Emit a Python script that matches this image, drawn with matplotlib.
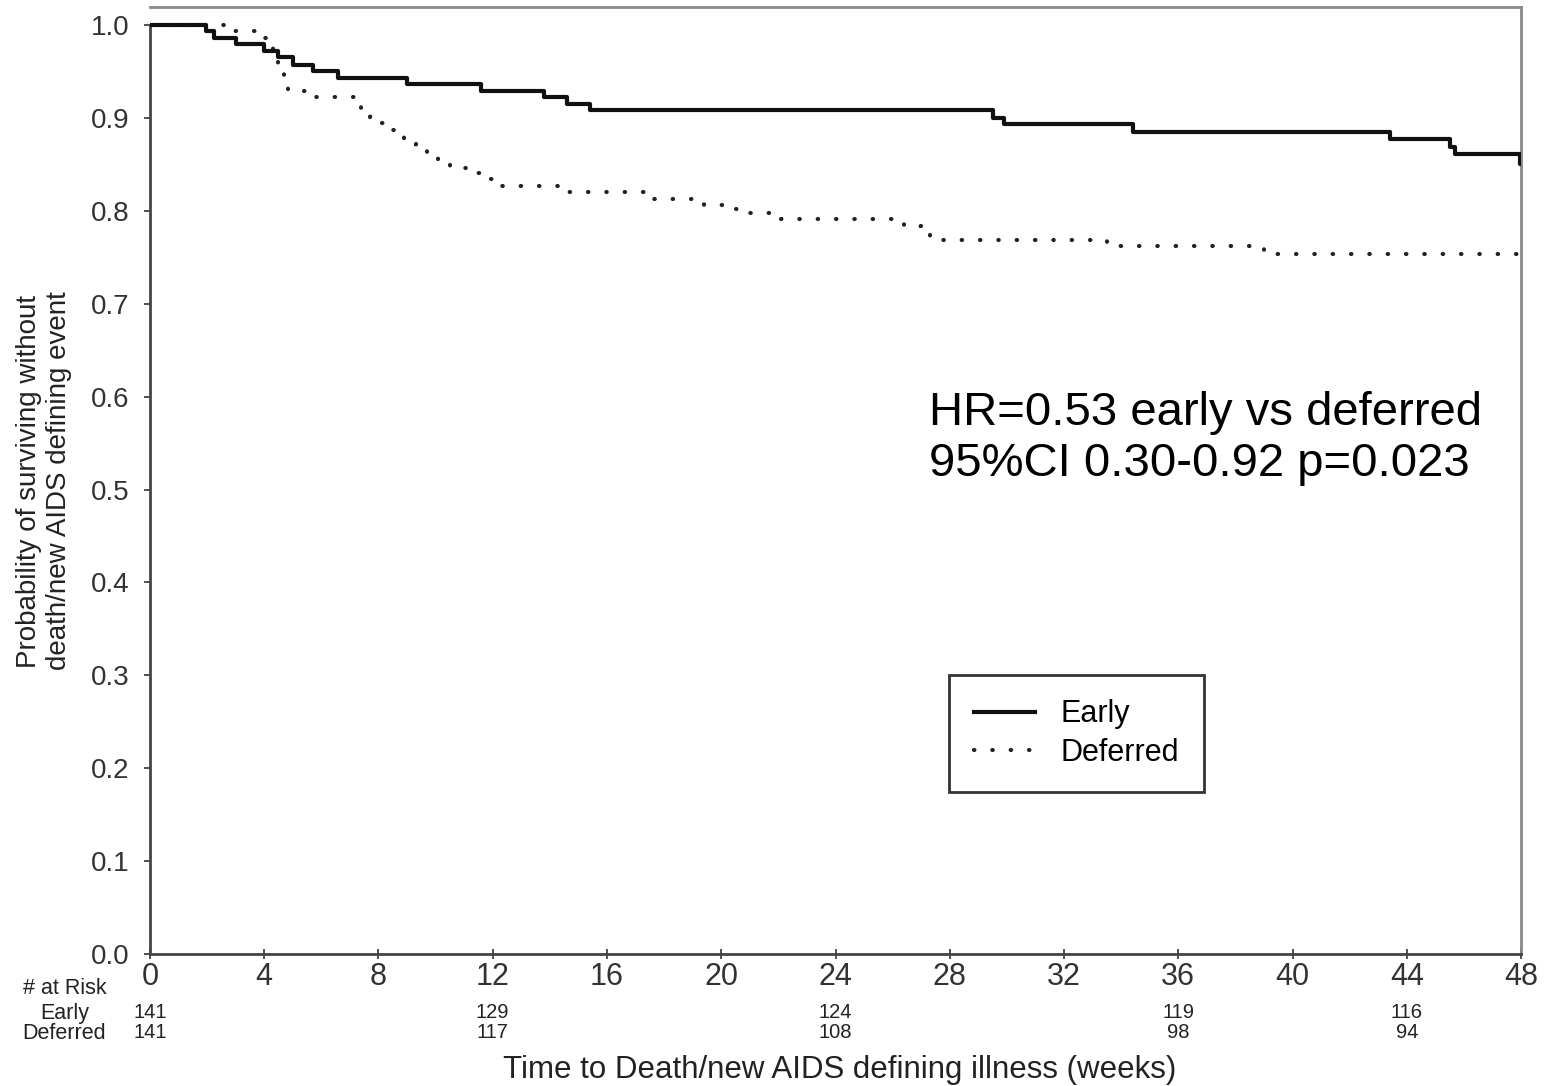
import matplotlib
matplotlib.use("Agg")
import matplotlib.pyplot as plt
from matplotlib.transforms import blended_transform_factory

plt.rcParams['font.family'] = ['Liberation Sans', 'DejaVu Sans']

# Kaplan-Meier steps (weeks, survival)
early_t = [0, 1.95, 2.25, 3.0, 4.0, 4.5, 5.0, 5.7, 6.6, 9.0, 11.6, 13.8, 14.6,
           15.4, 29.5, 29.9, 34.4, 43.4, 45.5, 45.7, 47.95, 48]
early_s = [1.0, 0.993, 0.986, 0.979, 0.972, 0.965, 0.957, 0.950, 0.943, 0.936,
           0.929, 0.922, 0.915, 0.908, 0.900, 0.893, 0.885, 0.877, 0.869,
           0.861, 0.850, 0.850]

deferred_t = [0, 2.7, 4.0, 4.15, 4.3, 4.4, 4.5, 4.6, 4.7, 4.75, 4.85, 5.6, 7.2,
              7.4, 7.7, 8.0, 8.3, 8.6, 8.9, 9.3, 9.7, 10.1, 10.5, 11.5, 11.9,
              12.3, 14.6, 17.6, 19.4, 20.4, 21.0, 22.1, 26.4, 27.0, 27.3, 33.5,
              39.0, 48]
deferred_s = [1.0, 0.993, 0.986, 0.979, 0.972, 0.965, 0.957, 0.950, 0.943,
              0.936, 0.929, 0.922, 0.915, 0.908, 0.901, 0.894, 0.887, 0.879,
              0.872, 0.865, 0.858, 0.851, 0.846, 0.841, 0.834, 0.827, 0.820,
              0.813, 0.806, 0.802, 0.798, 0.791, 0.784, 0.777, 0.769, 0.762,
              0.753, 0.753]

risk_weeks = [0, 12, 24, 36, 44]
risk_early = [141, 129, 124, 119, 116]
risk_deferred = [141, 117, 108, 98, 94]

xticks = list(range(0, 49, 4))
yticks = [i / 10 for i in range(11)]

fig = plt.figure(figsize=(15.49, 10.86), dpi=100)
ax = fig.add_axes([0.0968, 0.1215, 0.8852, 0.8721])

ax.step(deferred_t, deferred_s, where='post', color='#222222', lw=3,
        linestyle=(0, (0.1, 4.3)), dash_capstyle='round', label='Deferred')
ax.step(early_t, early_s, where='post', color='#111111', lw=3,
        label='Early', zorder=3)

ax.set_xlim(0, 48)
ax.set_ylim(0, 1.0194)
ax.set_xticks(xticks)
ax.set_yticks(yticks)
ax.set_yticklabels(['%.1f' % v for v in yticks])

for s in ['left', 'bottom']:
    ax.spines[s].set_color('#444444')
    ax.spines[s].set_linewidth(2)
for s in ['top', 'right']:
    ax.spines[s].set_color('#888888')
    ax.spines[s].set_linewidth(2)
ax.spines['left'].set_bounds(0, 1)

ax.tick_params(axis='y', direction='out', length=4, width=1.2, pad=11,
               labelsize=20, colors='#333333')
ax.tick_params(axis='x', direction='inout', length=7, width=1.2, pad=2,
               labelsize=22, colors='#333333')

ax.text(27.26, 0.555, 'HR=0.53 early vs deferred\n95%CI 0.30-0.92 p=0.023',
        fontsize=34, color='black', ha='left', va='center')

leg = ax.legend(handles=ax.get_lines()[::-1], loc='upper left',
                bbox_to_anchor=(0.583, 0.2946), borderaxespad=0,
                fontsize=22, frameon=True, fancybox=False, framealpha=1,
                edgecolor='#333333', handlelength=2.0, handletextpad=0.85,
                borderpad=0.8, labelspacing=0.28)
leg.get_frame().set_linewidth(2)

fig.text(0.0284, 0.557,
         'Probability of surviving without\ndeath/new AIDS defining event',
         rotation=90, ha='center', va='center', fontsize=20, color='#222222')

fig.text(0.542, 0.0147, 'Time to Death/new AIDS defining illness (weeks)',
         ha='center', va='center', fontsize=22.5, color='#222222')

# number at risk table
trans = blended_transform_factory(ax.transData, fig.transFigure)
fig.text(0.0416, 0.0902, '# at Risk', ha='center', va='center', fontsize=15.5,
         color='#222222')
fig.text(0.0416, 0.0672, 'Early', ha='center', va='center', fontsize=15.5,
         color='#222222')
fig.text(0.0416, 0.0488, 'Deferred', ha='center', va='center', fontsize=15.5,
         color='#222222')
for wk, ne, nd in zip(risk_weeks, risk_early, risk_deferred):
    ax.text(wk, 0.0681, str(ne), transform=trans, ha='center', va='center',
            fontsize=14.5, color='#222222')
    ax.text(wk, 0.0497, str(nd), transform=trans, ha='center', va='center',
            fontsize=14.5, color='#222222')

fig.savefig('out.png', dpi=100)
